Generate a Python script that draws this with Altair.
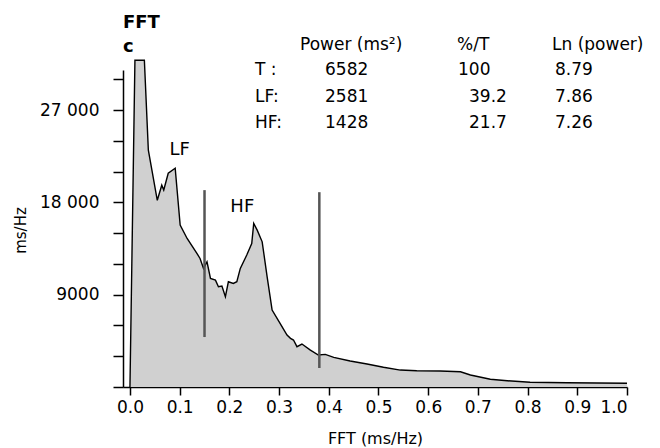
import altair as alt
import pandas as pd

# Spectrum (frequency in Hz-like units, power ms/Hz)
freq = [0.0, 0.010, 0.029, 0.037, 0.055, 0.064, 0.068, 0.077, 0.091, 0.101, 0.115,
        0.135, 0.141, 0.148, 0.155, 0.162, 0.172, 0.178, 0.185, 0.192, 0.198,
        0.208, 0.215, 0.222, 0.235, 0.245, 0.249, 0.256, 0.266, 0.276, 0.286,
        0.302, 0.316, 0.323, 0.329, 0.336, 0.346, 0.363, 0.379, 0.393, 0.41,
        0.443, 0.477, 0.51, 0.544, 0.577, 0.624, 0.665, 0.685, 0.725, 0.759,
        0.805, 0.879, 1.0]
power = [0, 31850, 31850, 23080, 18200, 19670, 19200, 20840, 21330, 15780, 14480,
         13000, 12530, 11560, 12210, 10590, 10420, 9770, 9840, 8800, 10260,
         10090, 10260, 11560, 12860, 13990, 15940, 15290, 14150, 10740, 7500,
         6200, 5060, 4740, 4580, 3930, 4190, 3600, 3120, 3180, 2890,
         2530, 2240, 1920, 1650, 1590, 1560, 1490, 1170, 750, 610,
         460, 420, 360]

# Band boundaries
bound_x = [0.15, 0.381]
bound_top = [19190, 18990]
bound_bottom = [4870, 1850]

band_labels = ["LF", "HF"]
band_label_x = [0.1, 0.226]
band_label_y = [23100, 17500]

x_ticks = [0.0, 0.1, 0.2, 0.3, 0.4, 0.5, 0.6, 0.7, 0.8, 0.9, 1.0]
y_ticks = [0, 3000, 6000, 9000, 12000, 15000, 18000, 21000, 24000, 27000, 30000]

header_cols = ["Power (ms\u00b2)", "%/T", "Ln (power)"]
row_names = ["T  :", "LF:", "HF:"]
row_power = ["6582", "2581", "1428"]
row_pct = ["100", "39.2", "21.7"]
row_ln = ["8.79", "7.86", "7.26"]

FONT = "DejaVu Sans"
FS = 17
W, H = 504, 317
YMAX = 30900

spec = pd.DataFrame({"f": freq, "p": power})
bounds = pd.DataFrame({"x": bound_x, "y1": bound_top, "y2": bound_bottom})
labels = pd.DataFrame({"x": band_label_x, "y": band_label_y, "t": band_labels})

xscale = alt.Scale(domain=[-0.014, 1.0], nice=False, zero=False)
yscale = alt.Scale(domain=[0, YMAX], nice=False)

ylabel_expr = ("datum.value == 9000 ? '9000' : datum.value == 18000 ? '18 000' : "
               "datum.value == 27000 ? '27 000' : ''")

xaxis = alt.Axis(
    values=x_ticks, format=".1f",
    title="FFT (ms/Hz)", grid=False, tickSize=8, labelPadding=4,
    titlePadding=15, labelFontSize=FS, titleFontSize=16,
    titleFontWeight="normal", labelOverlap=False, labelFont=FONT,
    titleFont=FONT, labelColor="black", titleColor="black",
    domainColor="black", domainWidth=1.5, tickColor="black", tickWidth=1.5)
yaxis = alt.Axis(
    values=y_ticks, labelExpr=ylabel_expr,
    title="ms/Hz", grid=False, tickSize=10, labelPadding=14,
    labelFontSize=FS, titleFontSize=15, titleFontWeight="normal",
    titleX=-103, titleY=160, titleAngle=-90, titleAlign="center",
    titleBaseline="middle", labelOverlap=False, labelFont=FONT,
    titleFont=FONT, labelColor="black", titleColor="black",
    domainColor="black", domainWidth=1.5, tickColor="black", tickWidth=1.5)

area = alt.Chart(spec).mark_area(
    color="#d0d0d0", line={"color": "black", "strokeWidth": 1.4}, opacity=1
).encode(
    x=alt.X("f:Q", scale=xscale, axis=xaxis),
    y=alt.Y("p:Q", scale=yscale, axis=yaxis),
)

rules = alt.Chart(bounds).mark_rule(color="#555555", strokeWidth=2.5).encode(
    x=alt.X("x:Q", scale=xscale, axis=xaxis),
    y=alt.Y("y1:Q", scale=yscale, axis=yaxis),
    y2="y2:Q",
)

band_text = alt.Chart(labels).mark_text(
    font=FONT, fontSize=18, color="black"
).encode(
    x=alt.X("x:Q", scale=xscale, axis=xaxis),
    y=alt.Y("y:Q", scale=yscale, axis=yaxis),
    text="t:N",
)

# Header / table (annotation text placed in pixel coordinates)
ann_rows = []
ann_rows.append({"t": "FFT", "px": 0, "py": -47, "w": "bold", "fs": 18})
ann_rows.append({"t": "c", "px": 0, "py": -23, "w": "bold", "fs": 18})
ann_rows.append({"t": header_cols[0], "px": 177, "py": -25, "w": "normal", "fs": FS})
ann_rows.append({"t": header_cols[1], "px": 334, "py": -25, "w": "normal", "fs": FS})
ann_rows.append({"t": header_cols[2], "px": 429, "py": -25, "w": "normal", "fs": FS})
row_py = [0, 27, 53]
for i in range(3):
    ann_rows.append({"t": row_names[i], "px": 132, "py": row_py[i], "w": "normal", "fs": FS})
    ann_rows.append({"t": row_power[i], "px": 202, "py": row_py[i], "w": "normal", "fs": FS})
    ann_rows.append({"t": row_pct[i], "px": 335 if i == 0 else 346, "py": row_py[i], "w": "normal", "fs": FS})
    ann_rows.append({"t": row_ln[i], "px": 432, "py": row_py[i], "w": "normal", "fs": FS})

ann_layers = []
for r in ann_rows:
    ann_layers.append(
        alt.Chart(pd.DataFrame({"t": [r["t"]]})).mark_text(
            font=FONT, fontSize=r["fs"], fontWeight=r["w"], align="left",
            baseline="middle", color="black"
        ).encode(x=alt.value(r["px"]), y=alt.value(r["py"]), text="t:N")
    )

chart = alt.layer(area, rules, band_text, *ann_layers).properties(
    width=W, height=H,
    background="white",
    autosize=alt.AutoSizeParams(type="none"),
    padding={"left": 123, "top": 70, "right": 33, "bottom": 61},
).configure_view(stroke="transparent", strokeWidth=0)

chart.save("out.html", embed_options={"renderer": "svg", "actions": False})
